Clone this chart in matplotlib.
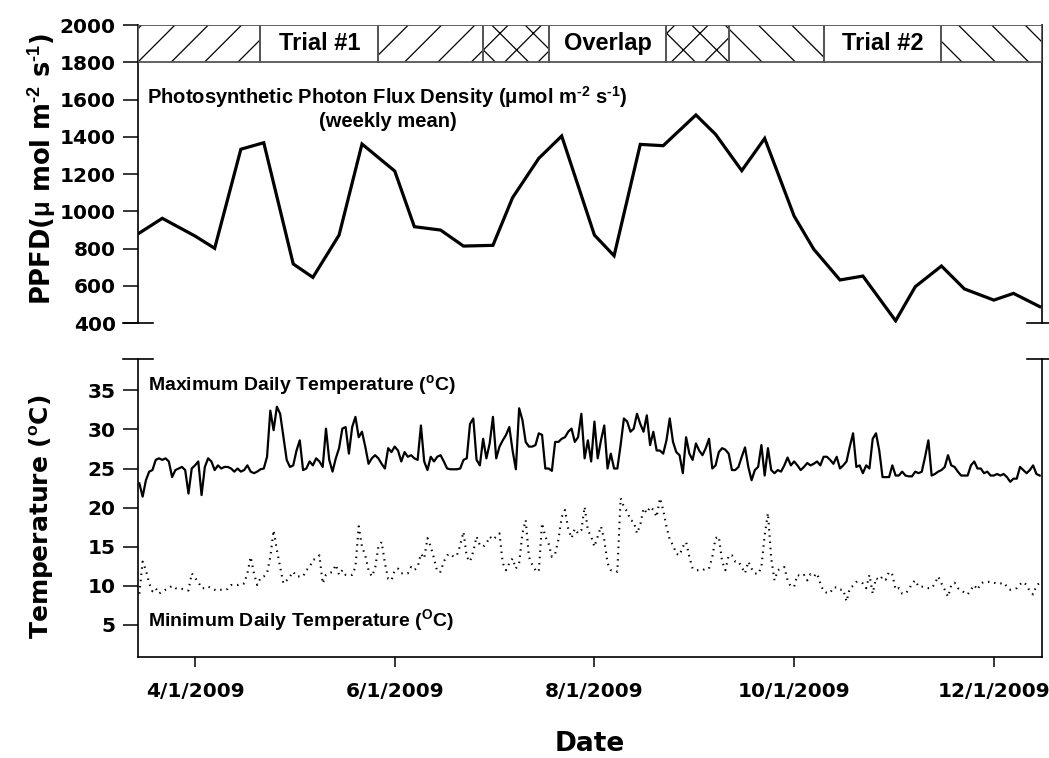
import numpy as np
import matplotlib
matplotlib.use("Agg")
import matplotlib.pyplot as plt
import matplotlib.dates as mdates
from matplotlib.patches import Rectangle
import datetime as dt

# ---------------- data ----------------
ppfd_dates = ["2009-03-15", "2009-03-22", "2009-04-01", "2009-04-07", "2009-04-15", "2009-04-22",
              "2009-05-01", "2009-05-07", "2009-05-15", "2009-05-22", "2009-06-01", "2009-06-07",
              "2009-06-15", "2009-06-22", "2009-07-01", "2009-07-07", "2009-07-15", "2009-07-22",
              "2009-08-01", "2009-08-07", "2009-08-15", "2009-08-22", "2009-09-01", "2009-09-07",
              "2009-09-15", "2009-09-22", "2009-10-01", "2009-10-07", "2009-10-15", "2009-10-22",
              "2009-11-01", "2009-11-07", "2009-11-15", "2009-11-22", "2009-12-01", "2009-12-07",
              "2009-12-15"]
ppfd_values = [883, 962, 867, 801, 1333, 1368, 717, 645, 872, 1361, 1216, 917,
               899, 813, 817, 1073, 1284, 1404, 872, 761, 1359, 1352, 1517, 1413,
               1218, 1391, 974, 796, 631, 652, 412, 595, 706, 583, 523, 559, 488]

temp_start = "2009-03-15"
tmax = [23.1, 21.4, 23.5, 24.6, 24.8, 26.1, 26.3, 26.1, 26.3, 25.9,
        23.9, 24.8, 25.0, 25.2, 24.8, 21.8, 25.0, 25.4, 25.9, 21.6,
        25.2, 26.3, 25.9, 24.8, 25.4, 25.0, 25.2, 25.2, 25.0, 24.6,
        25.0, 24.6, 24.8, 25.4, 24.6, 24.4, 24.6, 24.9, 25.0, 26.5,
        32.4, 29.9, 32.9, 32.0, 29.0, 26.1, 25.2, 25.4, 27.3, 28.6,
        24.8, 25.0, 25.9, 25.4, 26.3, 25.9, 25.2, 30.1, 26.1, 24.6,
        26.3, 27.6, 30.1, 30.3, 26.9, 30.3, 31.6, 29.0, 29.7, 27.8,
        25.6, 26.3, 26.7, 26.3, 25.6, 25.0, 27.6, 27.1, 27.8, 27.3,
        25.9, 27.1, 26.5, 26.7, 26.3, 26.1, 30.5, 25.9, 24.8, 26.5,
        25.9, 26.5, 26.7, 25.9, 25.0, 24.9, 24.9, 24.9, 25.0, 26.1,
        26.3, 30.7, 31.4, 26.1, 25.4, 28.8, 26.3, 28.2, 31.6, 26.3,
        27.8, 28.6, 29.3, 30.3, 27.3, 24.9, 32.7, 31.2, 28.4, 27.8,
        27.8, 28.0, 29.5, 29.3, 25.0, 25.0, 24.7, 28.4, 28.4, 28.8,
        29.0, 29.7, 30.1, 28.4, 29.0, 32.0, 26.3, 28.6, 25.9, 31.0,
        26.3, 28.6, 30.5, 25.0, 26.9, 25.0, 25.0, 28.0, 31.4, 31.0,
        29.7, 30.1, 32.0, 30.7, 29.7, 31.8, 28.0, 29.7, 27.3, 27.3,
        26.9, 28.6, 31.4, 28.4, 27.1, 26.7, 24.4, 29.0, 26.9, 26.1,
        28.2, 27.3, 26.7, 27.6, 28.8, 25.0, 25.4, 27.1, 27.6, 27.4,
        26.9, 24.8, 24.8, 25.2, 26.5, 27.7, 25.2, 23.5, 24.8, 25.2,
        28.0, 24.1, 27.6, 24.8, 24.4, 24.8, 24.6, 25.4, 26.4, 25.4,
        25.9, 25.4, 24.8, 25.2, 25.7, 25.4, 25.6, 25.9, 25.4, 26.5,
        26.5, 26.1, 25.6, 26.5, 25.0, 25.4, 25.9, 27.8, 29.5, 25.2,
        25.4, 24.4, 25.4, 25.0, 28.8, 29.5, 27.3, 23.9, 23.9, 23.9,
        25.4, 24.1, 24.1, 24.6, 24.1, 24.0, 24.0, 24.6, 24.4, 24.6,
        26.5, 28.6, 24.1, 24.3, 24.6, 24.8, 25.2, 26.7, 25.4, 25.2,
        24.6, 24.1, 24.1, 24.1, 25.4, 25.9, 25.0, 25.0, 24.4, 24.6,
        24.1, 24.1, 24.3, 24.1, 24.3, 23.9, 23.3, 23.7, 23.7, 25.2,
        24.8, 24.4, 24.8, 25.4, 24.3, 24.1]
tmin = [9.0, 13.1, 12.0, 10.3, 9.3, 9.7, 9.0, 9.3, 9.5, 9.7,
        10.0, 9.7, 9.6, 9.6, 9.5, 9.4, 11.6, 11.0, 10.5, 9.7,
        9.7, 9.9, 9.7, 9.5, 9.4, 9.5, 9.5, 9.6, 10.1, 10.1,
        10.1, 10.3, 10.3, 11.6, 13.7, 11.6, 10.1, 11.0, 11.2, 11.6,
        13.7, 17.1, 14.6, 12.4, 10.3, 10.7, 11.2, 11.8, 11.2, 11.2,
        11.2, 12.0, 12.4, 13.3, 13.5, 13.9, 10.3, 11.4, 11.6, 11.8,
        12.7, 11.4, 12.0, 11.4, 11.4, 11.4, 12.4, 17.6, 15.0, 13.9,
        12.0, 11.2, 12.2, 15.0, 15.6, 12.9, 10.9, 10.7, 12.0, 12.2,
        11.6, 11.6, 11.6, 12.4, 12.0, 12.4, 14.1, 13.5, 16.1, 15.0,
        13.5, 11.8, 11.8, 13.1, 13.9, 14.1, 13.7, 13.9, 15.2, 16.9,
        13.7, 13.1, 14.4, 16.3, 15.2, 15.0, 15.4, 16.3, 15.9, 16.3,
        16.7, 12.9, 12.0, 12.9, 13.5, 12.2, 12.9, 16.7, 18.4, 13.7,
        12.7, 12.0, 11.8, 18.0, 16.3, 15.4, 13.7, 14.1, 15.9, 18.8,
        19.7, 17.3, 16.1, 17.3, 16.7, 17.1, 20.1, 17.1, 16.3, 15.0,
        16.3, 17.6, 15.9, 12.9, 12.0, 12.0, 11.8, 21.2, 20.1, 19.5,
        18.4, 18.2, 16.7, 17.8, 19.9, 19.3, 20.1, 19.7, 18.8, 21.2,
        19.7, 17.6, 15.9, 15.2, 14.1, 13.9, 15.0, 15.6, 13.7, 12.2,
        12.0, 12.0, 12.0, 12.2, 12.2, 13.7, 16.1, 16.3, 13.1, 12.0,
        13.9, 13.9, 13.1, 13.1, 12.4, 11.6, 13.1, 12.2, 11.6, 11.5,
        12.4, 16.5, 19.3, 13.5, 10.7, 12.0, 12.2, 12.4, 10.7, 9.9,
        9.9, 11.4, 11.2, 11.4, 10.7, 11.5, 11.2, 11.6, 10.3, 9.3,
        9.1, 9.1, 9.8, 9.8, 9.5, 9.5, 8.0, 9.7, 10.0, 10.5,
        10.5, 10.3, 9.7, 11.4, 9.0, 11.0, 10.7, 11.2, 10.8, 11.8,
        11.4, 9.5, 9.7, 9.0, 9.0, 9.5, 10.3, 10.7, 9.9, 9.9,
        9.8, 9.7, 9.7, 10.3, 11.2, 10.3, 9.5, 8.6, 10.1, 10.4,
        9.7, 9.5, 9.1, 8.9, 9.5, 10.1, 9.5, 10.3, 10.5, 10.5,
        10.5, 10.4, 10.3, 10.3, 10.4, 9.9, 9.5, 9.6, 9.7, 10.2,
        10.5, 10.1, 9.3, 8.9, 10.0, 10.4]

period_bounds = ["2009-03-14", "2009-04-21", "2009-05-27", "2009-06-28", "2009-07-18",
                 "2009-08-23", "2009-09-11", "2009-10-10", "2009-11-15", "2009-12-16"]
period_hatch = ["/", "", "/", "x", "", "x", "\\", "", "\\"]
period_labels = ["", "Trial #1", "", "", "Overlap", "", "", "Trial #2", ""]

x_tick_dates = ["2009-04-01", "2009-06-01", "2009-08-01", "2009-10-01", "2009-12-01"]
x_tick_labels = ["4/1/2009", "6/1/2009", "8/1/2009", "10/1/2009", "12/1/2009"]
ppfd_ticks = [400, 600, 800, 1000, 1200, 1400, 1600, 1800, 2000]
temp_ticks = [5, 10, 15, 20, 25, 30, 35]

# ---------------- style ----------------
plt.rcParams["hatch.linewidth"] = 0.9
plt.rcParams["font.family"] = ["DejaVu Sans"]
plt.rcParams["font.weight"] = "bold"
plt.rcParams["mathtext.fontset"] = "custom"
plt.rcParams["mathtext.rm"] = "Liberation Sans:bold"
plt.rcParams["mathtext.bf"] = "Liberation Sans:bold"
plt.rcParams["mathtext.default"] = "bf"

ANN = dict(family=["Liberation Sans", "DejaVu Sans"], weight="bold")

def d(s):
    return dt.datetime.strptime(s, "%Y-%m-%d")

fig = plt.figure(figsize=(10.49, 7.58), dpi=100)
W, H = 1049.0, 758.0
L, R = 138, 1042
ax1 = fig.add_axes([L / W, 1 - 323 / H, (R - L) / W, 298 / H])
ax2 = fig.add_axes([L / W, 1 - 657 / H, (R - L) / W, 298 / H])

xmin = dt.datetime(2009, 3, 14, 14)
xmax = dt.datetime(2009, 12, 15, 17)

# ---------- top panel ----------
pd_x = [d(s) for s in ppfd_dates]
ax1.plot(pd_x, ppfd_values, color="black", lw=2.3, solid_joinstyle="miter")
ax1.set_xlim(xmin, xmax)
ax1.set_ylim(400, 2000)
ax1.set_yticks(ppfd_ticks)
ax1.set_xticks([])
for sp in ["top", "bottom"]:
    ax1.spines[sp].set_visible(False)
for sp in ["left", "right"]:
    ax1.spines[sp].set_linewidth(1.2)

# period band
pb = [d(s) for s in period_bounds]
for i in range(len(period_hatch)):
    x0 = mdates.date2num(pb[i])
    x1 = mdates.date2num(pb[i + 1])
    x0 = max(x0, mdates.date2num(xmin))
    x1 = min(x1, mdates.date2num(xmax))
    if period_hatch[i]:
        ax1.add_patch(Rectangle((x0, 1800), x1 - x0, 200, facecolor="white",
                                edgecolor="black", lw=0, hatch=period_hatch[i], zorder=3))
    ax1.add_patch(Rectangle((x0, 1800), x1 - x0, 200, facecolor="none",
                            edgecolor="#555555", lw=1.3, zorder=4))
    if period_labels[i]:
        ax1.text((x0 + x1) / 2, 1900, period_labels[i], ha="center", va="center",
                 fontsize=17, zorder=5, **ANN)

ax1.text(0.276, 0.757, r"Photosynthetic Photon Flux Density ($\mathbf{\mu}$mol m$^{\text{-2}}$ s$^{\text{-1}}$)",
         transform=ax1.transAxes, ha="center", va="center", fontsize=14.5, **ANN)
ax1.text(0.276, 0.676, "(weekly mean)", transform=ax1.transAxes, ha="center",
         va="center", fontsize=14.5, **ANN)

ax1.set_ylabel(r"PPFD($\mathbf{\mu}$ mol m$^{\text{-2}}$ s$^{\text{-1}}$)", fontsize=18.5,
               fontweight="bold", va="center")
ax1.yaxis.set_label_coords(-0.105, 0.517)

# ---------- bottom panel ----------
tx = np.arange(np.datetime64(temp_start), np.datetime64(temp_start) + len(tmax)).astype("datetime64[D]").astype(dt.datetime)
ax2.plot(tx, tmax, color="black", lw=1.6)
ax2.plot(tx, tmin, color="black", lw=1.5, linestyle=(0, (0.7, 2.3)))
ax2.set_xlim(xmin, xmax)
ax2.set_ylim(0.9, 39.0)
ax2.set_yticks(temp_ticks)
ax2.set_xticks([d(s) for s in x_tick_dates])
ax2.set_xticklabels(x_tick_labels)
ax2.spines["top"].set_visible(False)
for sp in ["left", "right", "bottom"]:
    ax2.spines[sp].set_linewidth(1.2)

ax2.text(0.011, 0.913, "Maximum Daily Temperature ($^{o}$C)", transform=ax2.transAxes,
         ha="left", va="center", fontsize=14, **ANN)
ax2.text(0.011, 0.124, "Minimum Daily Temperature ($^{O}$C)", transform=ax2.transAxes,
         ha="left", va="center", fontsize=14, **ANN)

ax2.set_ylabel("Temperature ($^{o}$C)", fontsize=18, fontweight="bold", va="center")
ax2.yaxis.set_label_coords(-0.107, 0.47)
ax2.set_xlabel("Date", fontsize=19, fontweight="bold", va="center")
ax2.xaxis.set_label_coords(0.5, -0.292)

for ax in (ax1, ax2):
    ax.tick_params(axis="y", which="major", length=10.5, width=1.1, pad=5.5,
                   labelsize=14.5, direction="out", right=False)
    for lab in ax.get_yticklabels():
        lab.set_fontweight("bold")
ax2.tick_params(axis="x", length=7, width=1.1, pad=11, labelsize=14.5)
for lab in ax2.get_xticklabels():
    lab.set_fontweight("bold")

# axis break marks
bl = 15.0 / (R - L)
for ax, yy in ((ax1, 0.0), (ax2, 1.0)):
    for xx in (0.0, 1.0):
        ax.plot([xx - bl, xx + bl], [yy, yy], transform=ax.transAxes, color="black",
                lw=1.2, clip_on=False, zorder=6)

fig.savefig("out.png", dpi=100)
